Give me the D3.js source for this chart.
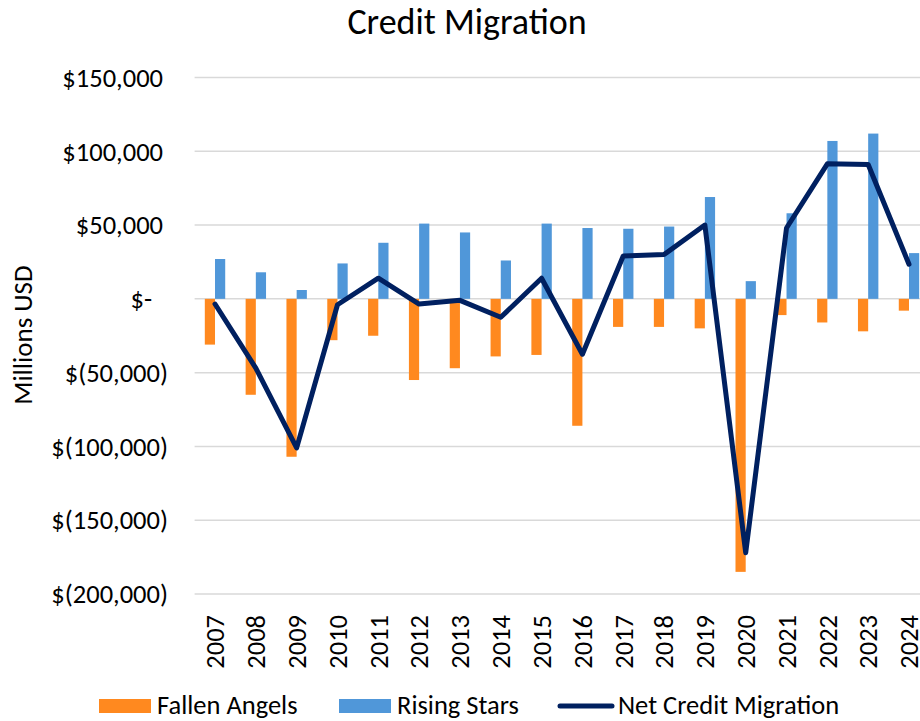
<!DOCTYPE html>
<html>
<head>
<meta charset="utf-8">
<script src="https://cdn.jsdelivr.net/npm/d3@7"></script>
<style>
  html, body { margin: 0; padding: 0; background: #fff; }
  svg { display: block; font-family: Carlito, Lato, "Open Sans", sans-serif; }
</style>
</head>
<body>
<svg id="chart" width="920" height="721"></svg>
<script>
const years = ["2007","2008","2009","2010","2011","2012","2013","2014","2015","2016","2017","2018","2019","2020","2021","2022","2023","2024"];
const fallenAngels = [-31000,-65000,-107000,-28000,-25000,-55000,-47000,-39000,-38000,-86000,-19000,-19000,-20000,-185000,-11000,-16000,-22000,-8000];
const risingStars = [27000,18000,6000,24000,38000,51000,45000,26000,51000,48000,47500,49000,69000,12000,58000,107000,112000,31000];
const netMigration = [-3500,-47000,-101000,-4000,14000,-3500,-1000,-12500,14000,-37500,29000,30000,50000,-172000,48000,91500,91000,23500];
const yTickValues = [-200000,-150000,-100000,-50000,0,50000,100000,150000];
const yTickLabels = ["$(200,000)","$(150,000)","$(100,000)","$(50,000)","$-","$50,000","$100,000","$150,000"];
const seriesNames = ["Fallen Angels","Rising Stars","Net Credit Migration"];
const colors = {fallen:"#FF891F", rising:"#5097D9", net:"#002060"};

const svg = d3.select("#chart");

const x = d3.scaleBand().domain(years).range([194.6, 929.4]).padding(0);
const xSub = d3.scaleBand().domain(["fallen","rising"]).range([x.bandwidth()*0.25, x.bandwidth()*0.75]).padding(0);
const y = d3.scaleLinear().domain([-200000, 150000]).range([594, 77.5]);

// gridlines
svg.append("g").selectAll("line").data(yTickValues).join("line")
  .attr("x1", 194.6).attr("x2", 929.4)
  .attr("y1", d => y(d)).attr("y2", d => y(d))
  .attr("stroke", "#D9D9D9").attr("stroke-width", 1.5);

// y tick labels
svg.append("g").selectAll("text").data(yTickValues).join("text")
  .attr("x", (d,i) => yTickLabels[i] === "$-" ? 152 : (d < 0 ? 168 : 163))
  .attr("y", d => y(d))
  .attr("dy", "0.35em")
  .attr("text-anchor", "end")
  .attr("font-size", 26.5)
  .attr("fill", "#000")
  .text((d,i) => yTickLabels[i]);

// bars
const gBars = svg.append("g");
gBars.selectAll("rect.fallen").data(years).join("rect")
  .attr("class","fallen")
  .attr("x", d => x(d) + xSub("fallen"))
  .attr("width", xSub.bandwidth())
  .attr("y", (d,i) => Math.min(y(0), y(fallenAngels[i])))
  .attr("height", (d,i) => Math.abs(y(fallenAngels[i]) - y(0)))
  .attr("fill", colors.fallen);
gBars.selectAll("rect.rising").data(years).join("rect")
  .attr("class","rising")
  .attr("x", d => x(d) + xSub("rising"))
  .attr("width", xSub.bandwidth())
  .attr("y", (d,i) => Math.min(y(0), y(risingStars[i])))
  .attr("height", (d,i) => Math.abs(y(risingStars[i]) - y(0)))
  .attr("fill", colors.rising);

// net line
const line = d3.line()
  .x((d,i) => x(years[i]) + x.bandwidth()/2)
  .y(d => y(d));
svg.append("path")
  .datum(netMigration)
  .attr("d", line)
  .attr("fill", "none")
  .attr("stroke", colors.net)
  .attr("stroke-width", 5)
  .attr("stroke-linejoin", "round")
  .attr("stroke-linecap", "round");

// x labels
svg.append("g").selectAll("text").data(years).join("text")
  .attr("transform", d => `translate(${x(d) + x.bandwidth()/2},615) rotate(-90)`)
  .attr("text-anchor", "end")
  .attr("dy", "0.35em")
  .attr("font-size", 26.5)
  .attr("fill", "#000")
  .text(d => d);

// title
svg.append("text")
  .attr("x", 467).attr("y", 34)
  .attr("text-anchor", "middle")
  .attr("font-size", 36)
  .attr("fill", "#000")
  .text("Credit Migration");

// y axis title
svg.append("text")
  .attr("transform", "translate(32,335) rotate(-90)")
  .attr("text-anchor", "middle")
  .attr("font-size", 27)
  .attr("fill", "#000")
  .text("Millions USD");

// legend
const lg = svg.append("g");
lg.append("rect").attr("x", 99).attr("y", 699).attr("width", 52).attr("height", 14).attr("fill", colors.fallen);
lg.append("text").attr("x", 157).attr("y", 714).attr("font-size", 26.5).text(seriesNames[0]);
lg.append("rect").attr("x", 339).attr("y", 699).attr("width", 52).attr("height", 14).attr("fill", colors.rising);
lg.append("text").attr("x", 397).attr("y", 714).attr("font-size", 26.5).text(seriesNames[1]);
lg.append("line").attr("x1", 560).attr("x2", 612).attr("y1", 706).attr("y2", 706)
  .attr("stroke", colors.net).attr("stroke-width", 5).attr("stroke-linecap", "round");
lg.append("text").attr("x", 618).attr("y", 714).attr("font-size", 26.5).text(seriesNames[2]);
</script>
</body>
</html>
